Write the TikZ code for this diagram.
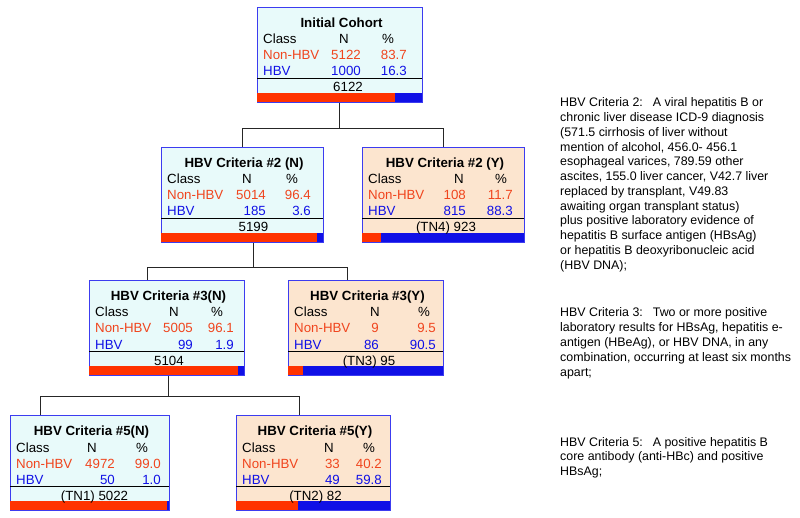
\documentclass[tikz,border=0pt]{standalone}
\usepackage{fontspec}
\setmainfont{Liberation Sans}
\usetikzlibrary{calc}
\definecolor{cyanfill}{HTML}{E8FAFA}
\definecolor{peachfill}{HTML}{FCE5CF}
\definecolor{boxblue}{HTML}{3C3CF0}
\definecolor{nonred}{HTML}{FF3300}
\definecolor{nontext}{HTML}{F0451E}
\definecolor{hbvblue}{HTML}{1010E6}

\begin{document}
\begin{tikzpicture}[x=1pt, y=-1pt,
  cell/.style={inner sep=0pt, font=\fontsize{13.3}{16}\selectfont},
  note/.style={inner sep=0pt, anchor=base west, font=\fontsize{12.4}{14.75}\selectfont},
  critbox/.style={draw=boxblue, line width=0.7pt, inner sep=0pt, minimum height=95pt, anchor=north west},
  tree/.style={line width=0.9pt, black!85}]
  \fill[white] (0,0) rectangle (800,518);
  % tree nodes: name/left/top/width/fill/title/counts/total/column offsets/red share
  \foreach \nm/\lx/\ty/\bw/\bg/\ttl/\nN/\pN/\nH/\pH/\tot/\nhx/\nrx/\phx/\prx/\tx/\fr in {
    root/257/7/165/cyanfill/Initial Cohort/5122/83.7/1000/16.3/6122/87/104/131/150/91/0.837,
    c2N/161/147/162/cyanfill/HBV Criteria \#2 (N)/5014/96.4/185/3.6/5199/86/105/131/150/92.5/0.964,
    c2Y/362/147/162/peachfill/HBV Criteria \#2 (Y)/108/11.7/815/88.3/(TN4) 923/97/104/139/151/84/0.117,
    c3N/89/280/155/cyanfill/HBV Criteria \#3(N)/5005/96.1/99/1.9/5104/85/104/128/145/80/0.961,
    c3Y/288/280/155/peachfill/HBV Criteria \#3(Y)/9/9.5/86/90.5/(TN3) 95/87/91/136/148/81/0.095,
    c5N/10/415/159/cyanfill/HBV Criteria \#5(N)/4972/99.0/50/1.0/(TN1) 5022/82/105/132/151/84.5/0.99,
    c5Y/236/415/154/peachfill/HBV Criteria \#5(Y)/33/40.2/49/59.8/(TN2) 82/93/104/133/146/79.5/0.402} {
    \begin{scope}[shift={(\lx,\ty)}]
      \node[critbox, fill=\bg, minimum width=\bw pt] (\nm) at (0,0) {};
      \fill[nonred] (0,86) rectangle (\fr*\bw,95);
      \fill[hbvblue] (\fr*\bw,86) rectangle (\bw,95);
      \draw[line width=0.7pt] (0,71.5) -- (\bw,71.5);
      \node[cell, anchor=base, font=\fontsize{13.3}{16}\selectfont\bfseries] (\nm-t) at (\bw/2+2,20.5) {\ttl};
      \node[cell, anchor=base west] (\nm-c) at (6,37) {Class};
      \node[cell, anchor=base] (\nm-nh) at (\nhx,37) {N};
      \node[cell, anchor=base] (\nm-ph) at (\phx,37) {\%};
      \node[cell, anchor=base west, nontext] (\nm-a) at (6,53) {Non-HBV};
      \node[cell, anchor=base east, nontext] (\nm-an) at (\nrx,53) {\nN};
      \node[cell, anchor=base east, nontext] (\nm-ap) at (\prx,53) {\pN};
      \node[cell, anchor=base west, hbvblue] (\nm-b) at (6,69) {HBV};
      \node[cell, anchor=base east, hbvblue] (\nm-bn) at (\nrx,69) {\nH};
      \node[cell, anchor=base east, hbvblue] (\nm-bp) at (\prx,69) {\pH};
      \node[cell, anchor=base] (\nm-s) at (\tx,85) {\tot};
    \end{scope}
  }

  % connectors
  \coordinate (j1) at ($(root.south)+(0,26)$);
  \draw[tree] (root.south) -- (j1);
  \draw[tree] (c2N.north) |- (j1) -| (c2Y.north);
  \coordinate (s2N) at ($(c2N.south west)+(92,0)$);
  \coordinate (j2) at ($(s2N)+(0,25)$);
  \coordinate (d3N) at ($(c3N.north west)+(58,0)$);
  \coordinate (d3Y) at ($(c3Y.north west)+(59,0)$);
  \draw[tree] (s2N) -- (j2);
  \draw[tree] (d3N) |- (j2) -| (d3Y);
  \coordinate (s3N) at ($(c3N.south west)+(79,0)$);
  \coordinate (j3) at ($(s3N)+(0,21)$);
  \coordinate (d5N) at ($(c5N.north west)+(30,0)$);
  \coordinate (d5Y) at ($(c5Y.north west)+(63,0)$);
  \draw[tree] (s3N) -- (j3);
  \draw[tree] (d5N) |- (j3) -| (d5Y);

  % criteria notes
  \foreach \ln [count=\k] in {{HBV Criteria 2:\hspace{10pt}A viral hepatitis B or},
    {chronic liver disease ICD-9 diagnosis}, {(571.5 cirrhosis of liver without},
    {mention of alcohol, 456.0- 456.1}, {esophageal varices, 789.59 other},
    {ascites, 155.0 liver cancer, V42.7 liver}, {replaced by transplant, V49.83},
    {awaiting organ transplant status)}, {plus positive laboratory evidence of},
    {hepatitis B surface antigen (HBsAg)}, {or hepatitis B deoxyribonucleic acid},
    {(HBV DNA);}}
    \node[note] (note2-\k) at (560,{107+14.75*(\k-1)}) {\ln};
  \foreach \ln [count=\k] in {{HBV Criteria 3:\hspace{10pt}Two or more positive},
    {laboratory results for HBsAg, hepatitis e-}, {antigen (HBeAg), or HBV DNA, in any},
    {combination, occurring at least six months}, {apart;}}
    \node[note] (note3-\k) at (560,{317+14.75*(\k-1)}) {\ln};
  \foreach \ln [count=\k] in {{HBV Criteria 5:\hspace{10pt}A positive hepatitis B},
    {core antibody (anti-HBc) and positive}, {HBsAg;}}
    \node[note] (note5-\k) at (560,{446+14.75*(\k-1)}) {\ln};
\end{tikzpicture}
\end{document}
